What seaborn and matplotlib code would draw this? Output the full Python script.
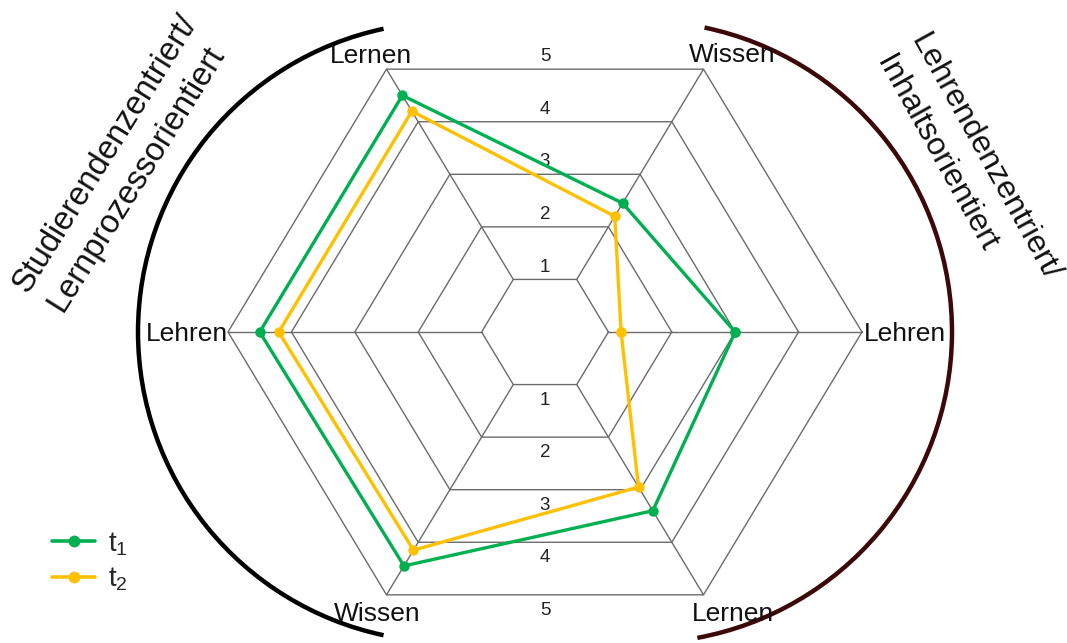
import numpy as np
import pandas as pd
import seaborn as sns
import matplotlib.pyplot as plt
from matplotlib.patches import Arc
from matplotlib.lines import Line2D

# Daten
achsen = ['Lehren', 'Wissen', 'Lernen', 'Lehren', 'Wissen', 'Lernen']
winkel = [0, 60, 120, 180, 240, 300]
t1 = [3.0, 2.45, 4.5, 4.5, 4.45, 3.4]
t2 = [1.2, 2.2, 4.2, 4.2, 4.15, 2.95]
skala = [1, 2, 3, 4, 5]
serien = ['t$_1$', 't$_2$']
farben = ['#00B050', '#FFC000']

# Pixel -> Datenmassstab (Bild leicht horizontal gestreckt)
px_x, px_y = 63.4, 60.7
cx, cy = 545, 332
W, H = 1067, 643

sns.set_style('white')
plt.rcParams['font.family'] = ['Liberation Sans', 'DejaVu Sans']
plt.rcParams['mathtext.fontset'] = 'custom'
plt.rcParams['mathtext.rm'] = 'Liberation Sans'
plt.rcParams['mathtext.it'] = 'Liberation Sans'
plt.rcParams['mathtext.bf'] = 'Liberation Sans:bold'

rad = np.deg2rad(winkel)
rows = []
for name, werte in zip(serien, [t1, t2]):
    for i in list(range(len(werte))) + [0]:
        rows.append({'zeit': name, 'x': werte[i] * np.cos(rad[i]), 'y': werte[i] * np.sin(rad[i])})
df = pd.DataFrame(rows)

fig = plt.figure(figsize=(W / 100, H / 100), dpi=100)
ax = fig.add_axes([0, 0, 1, 1])
ax.set_xlim(-cx / px_x, (W - cx) / px_x)
ax.set_ylim(-(H - cy) / px_y, cy / px_y)
ax.axis('off')

# Netz
gitter = '#6b6b6b'
ring = np.deg2rad(winkel + [0])
for k in skala:
    ax.plot(k * np.cos(ring), k * np.sin(ring), color=gitter, lw=1.0, zorder=1)
for a in rad:
    ax.plot([np.cos(a), 5 * np.cos(a)], [np.sin(a), 5 * np.sin(a)], color=gitter, lw=1.0, zorder=1)

# Skalenbeschriftung
h = np.sin(np.deg2rad(60))
for k in skala:
    ax.text(0, k * h + 0.13, str(k), ha='center', va='baseline', fontsize=13.5, color='#222222')
    ax.text(0, -(k * h + 0.33), str(k), ha='center', va='baseline', fontsize=13.5, color='#222222')

# Datenreihen
sns.lineplot(data=df, x='x', y='y', hue='zeit', palette=farben, sort=False, estimator=None,
             marker='o', markersize=7.5, markeredgewidth=0, lw=2.4, legend=False, ax=ax, zorder=3)

# Achsenbeschriftung
lab_pos = [(5.03, -0.15, 'left'), (2.95, 4.45, 'center'), (-2.75, 4.43, 'center'),
           (-5.0, -0.15, 'right'), (-2.65, -4.76, 'center'), (2.97, -4.76, 'center')]
for txt, (lx, ly, ha) in zip(achsen, lab_pos):
    ax.text(lx, ly, txt, ha=ha, va='baseline', fontsize=19, color='#111111')

# Boegen
ax.add_patch(Arc(((448 - cx) / px_x, 0), 2 * 310 / px_x, 2 * 310 / px_y,
                 theta1=101.5, theta2=258.5, color='black', lw=3.2))
ax.add_patch(Arc(((641 - cx) / px_x, 0), 2 * 311 / px_x, 2 * 311 / px_y,
                 theta1=-80, theta2=78.7, color='#3d0808', lw=3.2))

# Gedrehte Texte
def fpos(x, y):
    return x / W, 1 - y / H

for (x, y), txt in [((28, 294), 'Studierendenzentriert/'), ((62, 313), 'Lernprozessorientiert')]:
    fig.text(*fpos(x, y), txt, rotation=58, rotation_mode='anchor', ha='left', va='baseline',
             fontsize=23.5, color='#111111')
for (x, y), txt in [((910, 40), 'Lehrendenzentriert/'), ((876, 62), 'Inhaltsorientiert')]:
    fig.text(*fpos(x, y), txt, rotation=-61, rotation_mode='anchor', ha='left', va='baseline',
             fontsize=23, color='#111111')

# Legende
handles = [Line2D([], [], color=c, lw=2.6, marker='o', markersize=8.5, markeredgewidth=0) for c in farben]
fig.legend(handles, serien, loc='upper left', bbox_to_anchor=fpos(52, 530), frameon=False,
           fontsize=20, handlelength=1.55, handletextpad=0.45, labelspacing=0.3,
           borderpad=0, borderaxespad=0)

fig.savefig('out.png', dpi=100)
